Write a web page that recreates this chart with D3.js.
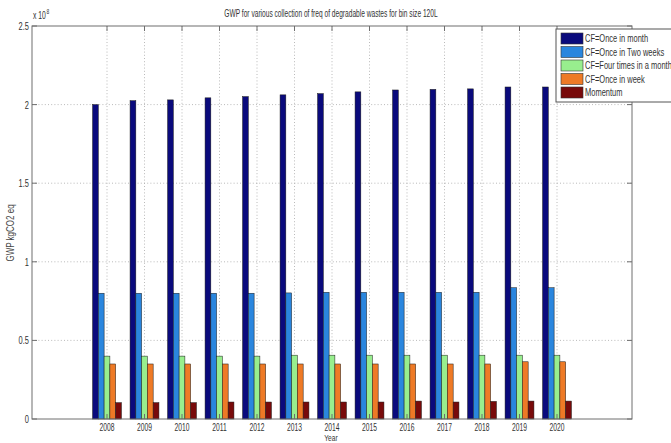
<!DOCTYPE html>
<html>
<head>
<meta charset="utf-8">
<script src="https://cdn.jsdelivr.net/npm/d3@7"></script>
<style>
  html, body { margin: 0; padding: 0; background: #fff; }
  svg { display: block; font-family: Arial, "Liberation Sans", sans-serif; }
</style>
</head>
<body>
<svg id="chart" width="671" height="443"></svg>
<script>
// Years on the x axis
const years = ["2008","2009","2010","2011","2012","2013","2014","2015","2016","2017","2018","2019","2020"];

// GWP (kg CO2 eq) per collection frequency
const onceInMonth   = [2.000e8, 2.025e8, 2.030e8, 2.043e8, 2.051e8, 2.062e8, 2.070e8, 2.081e8, 2.093e8, 2.097e8, 2.100e8, 2.112e8, 2.112e8];
const onceInTwoWeeks= [0.800e8, 0.800e8, 0.800e8, 0.800e8, 0.800e8, 0.802e8, 0.806e8, 0.806e8, 0.806e8, 0.806e8, 0.806e8, 0.835e8, 0.835e8];
const fourTimesMonth= [0.400e8, 0.400e8, 0.400e8, 0.400e8, 0.400e8, 0.406e8, 0.406e8, 0.406e8, 0.406e8, 0.406e8, 0.406e8, 0.406e8, 0.406e8];
const onceInWeek    = [0.350e8, 0.350e8, 0.350e8, 0.350e8, 0.350e8, 0.350e8, 0.350e8, 0.350e8, 0.350e8, 0.350e8, 0.350e8, 0.364e8, 0.364e8];
const momentum      = [0.104e8, 0.104e8, 0.104e8, 0.108e8, 0.108e8, 0.108e8, 0.108e8, 0.108e8, 0.114e8, 0.108e8, 0.112e8, 0.114e8, 0.114e8];

const seriesNames = ["CF=Once in month", "CF=Once in Two weeks", "CF=Four times in a month", "CF=Once in week", "Momentum"];
const seriesColors = ["#0a0a7c", "#2a86de", "#98ee8e", "#ee7a26", "#780a0a"];
const seriesValues = [onceInMonth, onceInTwoWeeks, fourTimesMonth, onceInWeek, momentum];

const yTicks = [0, 0.5e8, 1e8, 1.5e8, 2e8, 2.5e8];

const svg = d3.select("#chart");
const plotL = 32, plotR = 632, plotT = 26, plotB = 419;

// categorical positions 1..13 on a numeric axis running from -1 to 15
const x = d3.scaleLinear().domain([-1, 15]).range([plotL, plotR]);
const y = d3.scaleLinear().domain([0, 2.5e8]).range([plotB, plotT]);

const groupWidth = 0.77;
const barW = groupWidth / seriesValues.length;

// background
svg.append("rect").attr("x", plotL).attr("y", plotT)
  .attr("width", plotR - plotL).attr("height", plotB - plotT).attr("fill", "#fff");

// condensed text helper
function label(g, tx, ty, str, opts) {
  const o = Object.assign({size: 10, sx: 0.68, anchor: "middle", fill: "#333"}, opts || {});
  const grp = g.append("g").attr("transform", `translate(${tx},${ty})` + (o.rotate ? ` rotate(${o.rotate})` : "") + ` scale(${o.sx},1)`);
  return grp.append("text").attr("text-anchor", o.anchor).attr("font-size", o.size)
    .attr("fill", o.fill).text(str);
}

// grid lines
const grid = svg.append("g").attr("stroke", "#a8a8a8").attr("stroke-width", 0.8).attr("stroke-dasharray", "1,2.2");
years.forEach((yr, i) => {
  grid.append("line").attr("x1", x(i + 1)).attr("x2", x(i + 1)).attr("y1", plotT).attr("y2", plotB);
});
yTicks.slice(1, -1).forEach(v => {
  grid.append("line").attr("x1", plotL).attr("x2", plotR).attr("y1", y(v)).attr("y2", y(v));
});

// bars
const bars = svg.append("g");
seriesValues.forEach((vals, s) => {
  bars.selectAll(null).data(vals).enter().append("rect")
    .attr("x", (d, i) => x(i + 1 - groupWidth / 2 + s * barW))
    .attr("width", x(barW) - x(0))
    .attr("y", d => y(d))
    .attr("height", d => y(0) - y(d))
    .attr("fill", seriesColors[s])
    .attr("stroke", "#1a1a1a").attr("stroke-width", 0.5);
});

// axes box with inward ticks
const axisColor = "#6e6e6e";
const ax = svg.append("g").attr("stroke", axisColor).attr("stroke-width", 1).attr("fill", "none");
ax.append("rect").attr("x", plotL).attr("y", plotT).attr("width", plotR - plotL).attr("height", plotB - plotT);
years.forEach((yr, i) => {
  const px = x(i + 1);
  ax.append("line").attr("x1", px).attr("x2", px).attr("y1", plotB).attr("y2", plotB - 5);
  ax.append("line").attr("x1", px).attr("x2", px).attr("y1", plotT).attr("y2", plotT + 5);
});
yTicks.forEach(v => {
  ax.append("line").attr("x1", plotL).attr("x2", plotL + 5).attr("y1", y(v)).attr("y2", y(v));
  ax.append("line").attr("x1", plotR).attr("x2", plotR - 5).attr("y1", y(v)).attr("y2", y(v));
});

// tick labels
const txt = svg.append("g");
years.forEach((yr, i) => label(txt, x(i + 1), 431, yr, {size: 10.5, sx: 0.64}));
yTicks.forEach(v => label(txt, 29, y(v) + 4, d3.format("~g")(v / 1e8), {size: 11, sx: 0.68, anchor: "end"}));

// exponent marker
label(txt, 33, 19, "x 10", {size: 10, sx: 0.68, anchor: "start"});
label(txt, 46.5, 14, "8", {size: 7, sx: 0.7, anchor: "start"});

// titles
label(txt, 331, 17, "GWP for various collection of freq of degradable wastes for bin size 120L", {size: 10.5, sx: 0.63});
label(txt, 331, 441, "Year", {size: 8.5, sx: 0.78});
label(txt, 14, 233, "GWP kgCO2 eq", {size: 10, sx: 0.8, rotate: -90, fill: "#444"});

// legend
const lg = svg.append("g");
lg.append("rect").attr("x", 556).attr("y", 29).attr("width", 130).attr("height", 73)
  .attr("fill", "#fff").attr("stroke", "#555").attr("stroke-width", 1);
seriesNames.forEach((name, i) => {
  const cy = 38.5 + i * 13.5;
  lg.append("rect").attr("x", 561).attr("y", cy - 5.5).attr("width", 22).attr("height", 11)
    .attr("fill", seriesColors[i]).attr("stroke", "#333").attr("stroke-width", 0.6);
  label(lg, 585, cy + 3.5, name, {size: 10, sx: 0.75, anchor: "start"});
});
</script>
</body>
</html>
